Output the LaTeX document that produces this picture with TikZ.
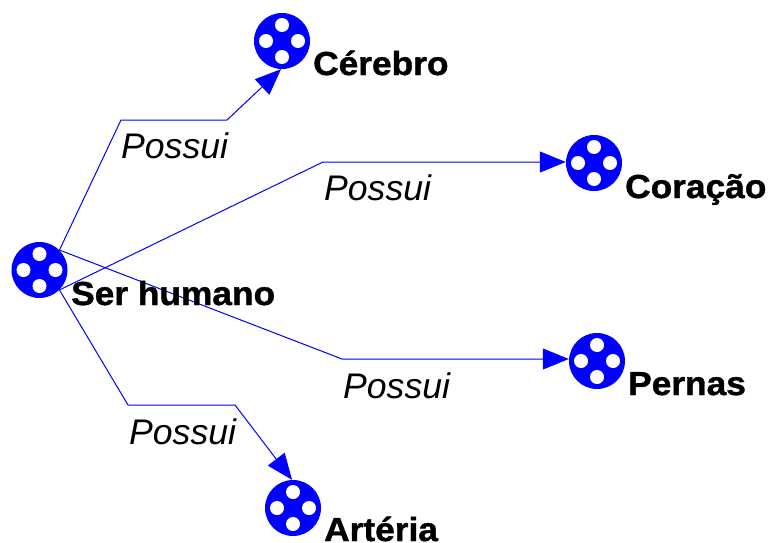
\documentclass[tikz,border=0pt]{standalone}
\usepackage{fontspec}
\setmainfont{Liberation Sans}
\newfontfamily\lblfont[FakeBold=1.2,FakeStretch=1.06]{Liberation Sans Bold}
\usetikzlibrary{arrows.meta}
\definecolor{cblue}{RGB}{0,0,255}
\tikzset{
  x=1pt,y=-1pt,
  concept/.style={circle,fill=cblue,minimum size=56pt,inner sep=0pt,
    path picture={
      \fill[white] (path picture bounding box.center) ++(0,16) circle[radius=7];
      \fill[white] (path picture bounding box.center) ++(0,-16) circle[radius=7];
      \fill[white] (path picture bounding box.center) ++(16,0) circle[radius=7];
      \fill[white] (path picture bounding box.center) ++(-16,0) circle[radius=7];
    }},
  conn/.style={draw=cblue,line width=1pt},
  tipped/.style={conn,-{Triangle[length=26pt,width=21pt,fill=cblue]}},
  lbl/.style={font=\lblfont\fontsize{33.3}{34}\selectfont,text=black,inner sep=0pt,anchor=base west},
  rel/.style={font=\itshape\fontsize{35.6}{36}\selectfont,text=black,inner sep=0pt,anchor=base west},
}
\begin{document}
\begin{tikzpicture}
\useasboundingbox (0,0) rectangle (768,543);
\node[concept] (ser) at (39.5,270) {};
\node[concept] (cer) at (282,41) {};
\node[concept] (cor) at (594,163) {};
\node[concept] (per) at (597,361) {};
\node[concept] (art) at (293,508) {};
\coordinate (c1) at (121,120);
\coordinate (c2) at (227,120);
\coordinate (d1) at (323,162);
\coordinate (e1) at (342,359);
\coordinate (f1) at (128,405);
\coordinate (f2) at (235,405);
\draw[tipped] (ser.45) -- (c1) -- (c2) -- (cer.268);
\draw[tipped] (ser.-45) -- (d1) -- (cor.west |- d1);
\draw[tipped] (ser.45) -- (e1) -- (per.west |- e1);
\draw[tipped] (ser.-45) -- (f1) -- (f2) -- (art.92);
\node[lbl] (t1) at (71,305) {Ser humano};
\node[lbl] (t2) at (313,75) {Cérebro};
\node[lbl] (t3) at (625,198) {Coração};
\node[lbl] (t4) at (628,395) {Pernas};
\node[lbl] (t5) at (324,541) {Artéria};
\node[rel] (r1) at (121,158) {Possui};
\node[rel] (r2) at (324,200) {Possui};
\node[rel] (r3) at (343,398) {Possui};
\node[rel] (r4) at (129,444) {Possui};
\end{tikzpicture}
\end{document}
